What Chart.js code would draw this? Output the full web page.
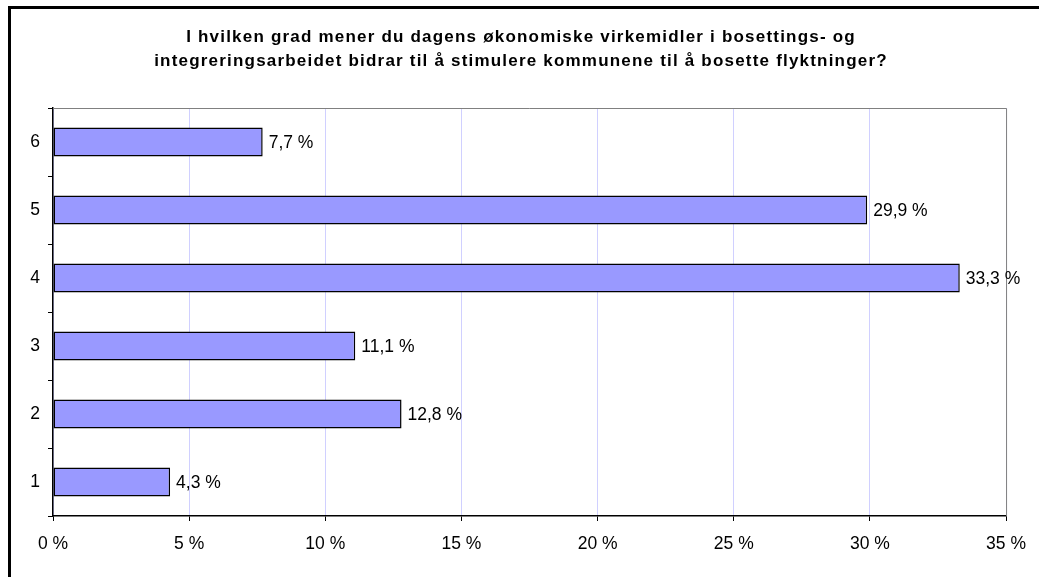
<!DOCTYPE html>
<html>
<head>
<meta charset="utf-8">
<script src="https://cdn.jsdelivr.net/npm/chart.js@4/dist/chart.umd.min.js"></script>
<style>
    html, body { margin: 0; padding: 0; background: #fff; }
    #wrap { position: relative; width: 1039px; height: 577px; overflow: hidden; }
    #frame {
        position: absolute; left: 8px; top: 6px; width: 1100px; height: 700px;
        border-top: 3px solid #000; border-left: 3px solid #000; pointer-events: none;
    }
</style>
</head>
<body>
<div id="wrap">
    <canvas id="chart" width="1039" height="577"></canvas>
    <div id="frame"></div>
</div>
<script>
'use strict';

const titleLines = [
    'I hvilken grad mener du dagens økonomiske virkemidler i bosettings- og',
    'integreringsarbeidet bidrar til å stimulere kommunene til å bosette flyktninger?'
];
const categories = ['1', '2', '3', '4', '5', '6'];
const shares = [4.3, 12.8, 11.1, 33.3, 29.9, 7.7];
const xTicks = [0, 5, 10, 15, 20, 25, 30, 35];

const FONT = '"Liberation Sans", Arial, sans-serif';
const fmt = v => v.toFixed(1).replace('.', ',') + ' %';

// title (spaced out like the original), value labels, gray frame top/right
const extras = {
    id: 'extras',
    afterDatasetsDraw(chart) {
        const { ctx, chartArea } = chart;
        ctx.save();
        ctx.strokeStyle = '#808080';
        ctx.lineWidth = 1;
        ctx.beginPath();
        ctx.moveTo(chartArea.left, chartArea.top + 0.5);
        ctx.lineTo(chartArea.right + 0.5, chartArea.top + 0.5);
        ctx.lineTo(chartArea.right + 0.5, chartArea.bottom);
        ctx.stroke();

        ctx.fillStyle = '#000';
        ctx.font = '17.5px ' + FONT;
        ctx.textBaseline = 'middle';
        ctx.textAlign = 'left';
        chart.getDatasetMeta(0).data.forEach((bar, i) => {
            ctx.fillText(fmt(shares[i]), bar.x + 6, bar.y + 1);
        });

        ctx.font = 'bold 17px ' + FONT;
        ctx.letterSpacing = '1.2px';
        ctx.textAlign = 'center';
        ctx.textBaseline = 'alphabetic';
        titleLines.forEach((line, i) => {
            ctx.fillText(line, 521, 42 + i * 24);
        });
        ctx.restore();
    }
};

new Chart(document.getElementById('chart'), {
    type: 'bar',
    data: {
        labels: categories,
        datasets: [{
            data: shares,
            backgroundColor: '#9999ff',
            borderColor: '#000',
            borderWidth: 1.5,
            borderSkipped: false,
            categoryPercentage: 1,
            barPercentage: 0.43
        }]
    },
    options: {
        indexAxis: 'y',
        responsive: false,
        animation: false,
        layout: { padding: { left: 0, right: 31, top: 108, bottom: 0 } },
        plugins: {
            legend: { display: false },
            tooltip: { enabled: false },
            title: { display: false }
        },
        scales: {
            x: {
                min: 0,
                max: 35,
                afterFit: s => { s.height = 61; },
                afterBuildTicks: s => { s.ticks = xTicks.map(v => ({ value: v })); },
                ticks: {
                    color: '#000',
                    padding: 13,
                    font: { family: FONT, size: 17.5 },
                    callback: v => v + ' %'
                },
                grid: {
                    color: '#d0d0ff',
                    tickColor: '#000',
                    tickLength: 5,
                    lineWidth: 1
                },
                border: { color: '#000', width: 1.5 }
            },
            y: {
                reverse: true,
                offset: true,
                afterFit: s => { s.width = 53; },
                ticks: {
                    color: '#000',
                    padding: 8,
                    font: { family: FONT, size: 17.5 }
                },
                grid: {
                    offset: true,
                    drawOnChartArea: false,
                    tickColor: '#000',
                    tickLength: 5
                },
                border: { color: '#000', width: 1.5 }
            }
        }
    },
    plugins: [extras]
});
</script>
</body>
</html>
